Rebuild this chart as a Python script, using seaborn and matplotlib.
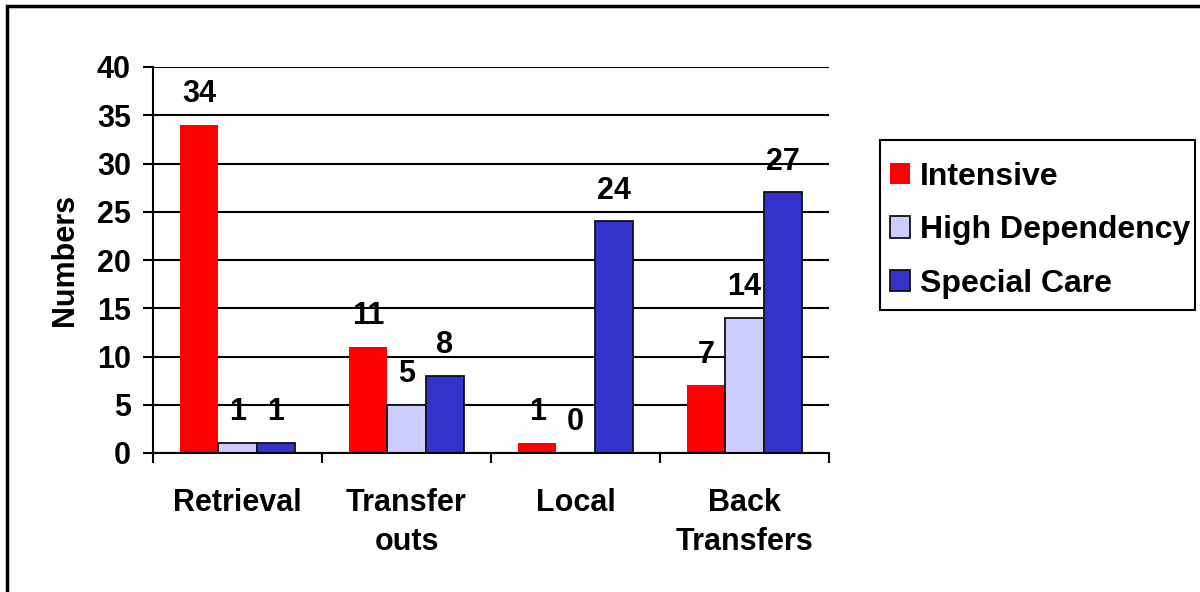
import matplotlib
matplotlib.use("Agg")
import matplotlib.pyplot as plt
import seaborn as sns
import pandas as pd
from matplotlib.patches import Rectangle

categories = ["Retrieval", "Transfer\nouts", "Local", "Back\nTransfers"]
series = ["Intensive", "High Dependency", "Special Care"]
intensive = [34, 11, 1, 7]
high_dependency = [1, 5, 0, 14]
special_care = [1, 8, 24, 27]
colors = ["#FF0000", "#CCCCFF", "#3333CC"]

rows = []
for s, vals in zip(series, [intensive, high_dependency, special_care]):
    for c, v in zip(categories, vals):
        rows.append({"Category": c, "Series": s, "Value": v})
df = pd.DataFrame(rows)

sns.set_theme(style="white")
plt.rcParams['font.family'] = ['Liberation Sans', 'DejaVu Sans']
plt.rcParams['font.weight'] = 'bold'
for k in ["text.color", "axes.labelcolor", "xtick.color", "ytick.color"]:
    plt.rcParams[k] = "black"

FS = 22

fig = plt.figure(figsize=(12, 5.92), dpi=100)
ax = fig.add_axes([153/1200, 1 - 453/592, (829-153)/1200, (453-67)/592])

sns.barplot(data=df, x="Category", y="Value", hue="Series", order=categories,
            hue_order=series, palette=colors, width=0.675, saturation=1,
            ax=ax, legend=True)

for i, cont in enumerate(ax.containers):
    for bar in cont:
        h = bar.get_height()
        if i == 0:
            bar.set_edgecolor("none")
            bar.set_linewidth(0)
        else:
            bar.set_edgecolor("#111111")
            bar.set_linewidth(1.3 if h > 0 else 0)
        ax.text(bar.get_x() + bar.get_width()/2, h + 3.2, f"{int(h)}",
                ha="center", va="center", fontsize=FS, fontweight="bold",
                color="black", clip_on=False)

ax.set_xlim(-0.5, 3.5)
ax.set_ylim(0, 40)
ax.set_yticks(range(0, 41, 5))
ax.yaxis.grid(True, color="black", linewidth=1.5)
ax.set_axisbelow(True)
for side in ["top", "right"]:
    ax.spines[side].set_visible(False)
for side in ["left", "bottom"]:
    ax.spines[side].set_color("black")
    ax.spines[side].set_linewidth(1.5)

ax.set_xticks([-0.5, 0.5, 1.5, 2.5, 3.5], minor=True)
ax.tick_params(axis="x", which="major", length=0, pad=25, labelsize=FS)
ax.tick_params(axis="x", which="minor", length=7, width=1.5, color="black",
               direction="out", bottom=True)
ax.tick_params(axis="y", which="major", length=7, width=1.5, color="black",
               direction="out", left=True, pad=9, labelsize=FS)
for lab in ax.get_xticklabels():
    lab.set_fontweight("bold")
    lab.set_linespacing(1.42)
    lab.set_verticalalignment("top")
for lab in ax.get_yticklabels():
    lab.set_fontweight("bold")

ax.set_xlabel("")
ax.set_ylabel("Numbers", fontsize=FS, fontweight="bold", labelpad=12)

leg = ax.legend(loc="upper left", bbox_to_anchor=(880/1200, 1 - 152/592),
                bbox_transform=fig.transFigure, frameon=False,
                prop={"weight": "bold", "size": 23},
                handlelength=0.65, handleheight=0.65, handletextpad=0.3,
                labelspacing=0.74, borderpad=0.3, borderaxespad=0)
for idx, h in enumerate(leg.legend_handles):
    if idx == 0:
        h.set_edgecolor("none")
    else:
        h.set_edgecolor("#111111")
        h.set_linewidth(1.3)

# legend box
fig.patches.append(Rectangle((880/1200, 1 - 310/592), 315/1200, 170/592,
                             transform=fig.transFigure, fill=False,
                             edgecolor="black", linewidth=1.5))
# outer frame
fig.patches.append(Rectangle((7/1200, -0.2), 1.5, 1.2 - 6/592,
                             transform=fig.transFigure, fill=False,
                             edgecolor="black", linewidth=2.5))

fig.savefig("out.png", dpi=100)
